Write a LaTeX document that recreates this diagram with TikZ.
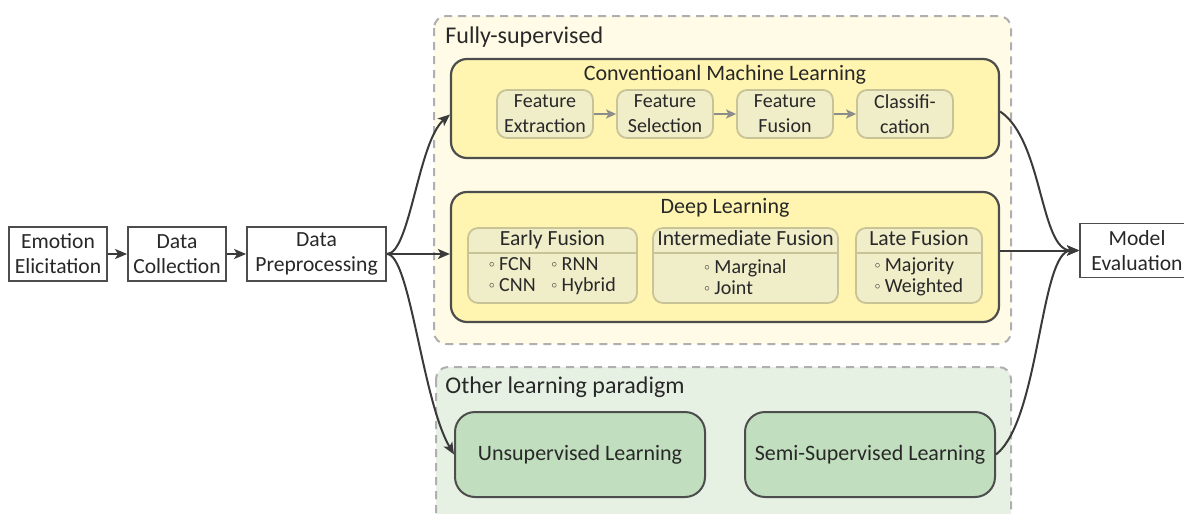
\documentclass[tikz,border=0pt]{standalone}
\usepackage{fontspec}
\setmainfont{Carlito}
\usetikzlibrary{arrows.meta}
\newcommand{\bul}{\raisebox{0.35ex}{\scalebox{0.55}{$\circ$}}}

\begin{document}
\begin{tikzpicture}[x=0.5pt,y=-0.5pt,
  font=\fontsize{10}{12.5}\selectfont,
  every node/.append style={text=txtcolor},
  plainbox/.style={draw=boxline,line width=0.9pt,fill=white,align=center,inner sep=0pt,minimum height=27pt,font=\fontsize{10.8}{12.5}\selectfont},
  region/.style={draw=dashgray,dash pattern=on 4pt off 3pt,line width=1pt,rounded corners=6pt},
  regionlabel/.style={anchor=base west,inner sep=0pt,font=\fontsize{12}{14}\selectfont},
  bigbox/.style={draw=boxline,line width=1.1pt,fill=yellowbox,rounded corners=8pt,inner sep=0pt},
  stepbox/.style={draw=olivebox,line width=0.9pt,fill=olivefill,rounded corners=5pt,align=center,inner sep=0pt,minimum width=48pt,minimum height=24pt},
  fusebox/.style={draw=olivebox,line width=0.9pt,fill=olivefill,rounded corners=5pt,inner sep=0pt,minimum height=37.5pt},
  fusehead/.style={anchor=base,inner sep=0pt,font=\fontsize{10.8}{12}\selectfont},
  greenbox/.style={draw=boxline,line width=1pt,fill=greenfill,rounded corners=10pt,inner sep=0pt,minimum width=125pt,minimum height=42.5pt,font=\fontsize{11}{13}\selectfont},
  flow/.style={draw=arrowcolor,line width=1pt,-{Stealth[length=6pt,width=5pt,inset=1.5pt]}},
  innerflow/.style={draw=gray!90,line width=1pt,-{Stealth[length=5pt,width=4.5pt,inset=1.2pt]}}
]
  % Define colors
  \definecolor{txtcolor}{RGB}{40,40,40}
  \definecolor{boxline}{RGB}{77,77,77}
  \definecolor{arrowcolor}{RGB}{58,58,58}
  \definecolor{dashgray}{RGB}{175,175,175}
  \definecolor{fsfill}{RGB}{255,251,230}
  \definecolor{yellowbox}{RGB}{255,245,176}
  \definecolor{olivefill}{RGB}{240,237,201}
  \definecolor{olivebox}{RGB}{200,196,152}
  \definecolor{olfill}{RGB}{230,241,228}
  \definecolor{greenfill}{RGB}{193,223,190}

  \useasboundingbox (0,0) rectangle (1184,514);

  % Regions
  \draw[region,fill=fsfill] (434,16) rectangle (1011,344);
  \draw[region,fill=olfill] (436,367) rectangle (1011,540);
  \node[regionlabel] (fslabel) at (445,43) {Fully-supervised};
  \node[regionlabel] (ollabel) at (445,393) {Other learning paradigm};

  % Pipeline
  \node[plainbox,minimum width=49pt] (elicit) at (58,254) {Emotion\\Elicitation};
  \node[plainbox,minimum width=49pt] (collect) at (177,254) {Data\\Collection};
  \node[plainbox,minimum width=69.5pt] (preproc) at (316.5,254) {Data\\Preprocessing};
  \node[plainbox,minimum width=57pt] (evalm) at (1137,250.5) {Model\\Evaluation};

  \draw[flow] (elicit) -- (collect);
  \draw[flow] (collect) -- (preproc);

  % Conventional machine learning
  \node[bigbox,minimum width=274pt,minimum height=49.5pt] (cml) at (725,108.5) {};
  \node[font=\fontsize{11}{13}\selectfont] (cmltitle) at (725,75) {Conventioanl Machine Learning};
  \foreach \name/\txt [count=\i from 0] in {extract/Feature\\Extraction,select/Feature\\Selection,fusion/Feature\\Fusion,classify/Classifi-\\cation} {
    \node[stepbox] (\name) at ({545+120*\i},114) {\txt};
  }
  \foreach \a/\b in {extract/select,select/fusion,fusion/classify} {
    \draw[innerflow] (\a) -- (\b);
  }

  % Deep learning
  \node[bigbox,minimum width=274pt,minimum height=65pt] (dl) at (725,257) {};
  \node[font=\fontsize{11}{13}\selectfont] (dltitle) at (725,208) {Deep Learning};
  \node[fusebox,minimum width=84.5pt] (early) at (552.5,265.5) {};
  \node[fusebox,minimum width=92.5pt] (inter) at (745.5,265.5) {};
  \node[fusebox,minimum width=63pt] (late) at (919,265.5) {};
  \foreach \b in {early,inter,late} {
    \draw[olivebox,line width=0.9pt] (\b.west |- 0,253) -- (\b.east |- 0,253);
  }
  \node[fusehead] (earlyhead) at (552.5,245) {Early Fusion};
  \node[fusehead] (interhead) at (745.5,245) {Intermediate Fusion};
  \node[fusehead] (latehead) at (919,245) {Late Fusion};
  \node[inner sep=0pt] (earlyitems) at (552.5,277) {\renewcommand{\arraystretch}{0.84}%
    \begin{tabular}{@{}l@{\hspace{8pt}}l@{}}\bul{} FCN & \bul{} RNN\\ \bul{} CNN & \bul{} Hybrid\end{tabular}};
  \node[inner sep=0pt,align=left,font=\fontsize{10}{10.5}\selectfont] (interitems) at (745.5,277) {\bul{} Marginal\\\bul{} Joint};
  \node[inner sep=0pt,align=left,font=\fontsize{10}{10.5}\selectfont] (lateitems) at (919,277) {\bul{} Majority\\\bul{} Weighted};

  % Other paradigms
  \node[greenbox] (unsup) at (580,454.5) {Unsupervised Learning};
  \node[greenbox] (semi) at (870,454.5) {Semi-Supervised Learning};

  % Connections
  \draw[flow] (preproc.east) .. controls (410,254) and (418,142) .. ([yshift=-3pt]cml.west);
  \draw[flow] (preproc.east) -- (dl.west |- preproc.east);
  \draw[flow] (preproc.east) .. controls (410,254) and (422,400) .. (unsup.west);
  \draw[flow] ([yshift=-1.5pt]cml.east) .. controls (1043,140) and (1040,250.5) .. (evalm.west);
  \draw[flow] (dl.east |- evalm.west) -- (evalm.west);
  \draw[flow] (semi.east) .. controls (1040,420) and (1040,250.5) .. (evalm.west);
\end{tikzpicture}
\end{document}
